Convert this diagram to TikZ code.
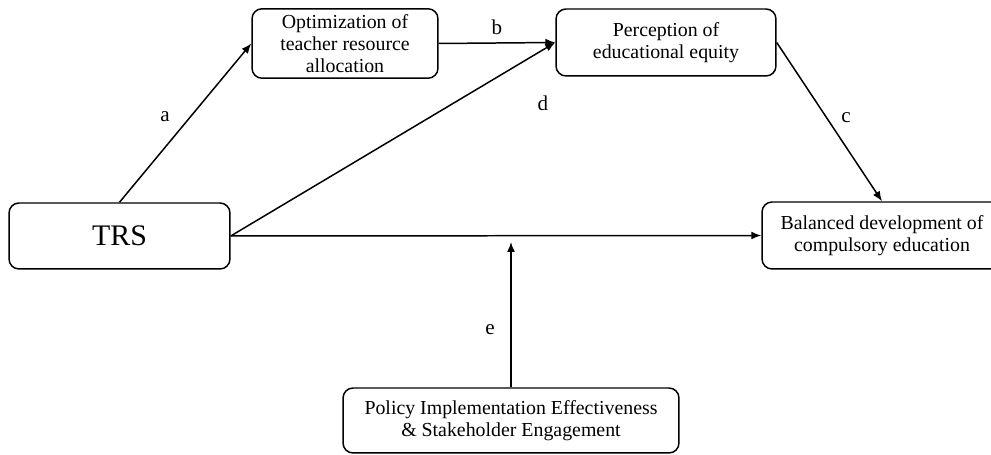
\documentclass[tikz,border=0pt]{standalone}
\usepackage{fontspec}
\setmainfont{Liberation Serif}
\usetikzlibrary{arrows.meta}

\begin{document}
\begin{tikzpicture}[
  x=0.02cm, y=-0.02cm,
  box/.style={rectangle, draw, rounded corners=2mm, line width=0.85pt, align=center,
    font=\fontsize{11.3}{12.4}\selectfont},
  path/.style={line width=0.85pt, -{Latex[length=2mm, width=1.6mm]}},
  lbl/.style={font=\fontsize{12}{14}\selectfont}
]
\clip (0,0) rectangle (991,455);
\node[box, minimum width=4.42cm, minimum height=1.32cm, font=\fontsize{17}{20}\selectfont] (trs) at (119.5,236) {TRS};
\node[box, minimum width=3.72cm, minimum height=1.34cm] (opt) at (345,43.5) {Optimization of\\teacher resource\\allocation};
\node[box, minimum width=4.4cm, minimum height=1.34cm] (perc) at (666,42.5) {Perception of\\educational equity};
\node[box, minimum width=4.8cm, minimum height=1.34cm] (bal) at (882,235.5) {Balanced development of\\compulsory education};
\node[box, minimum width=6.72cm, minimum height=1.3cm] (pol) at (511,420.5) {Policy Implementation Effectiveness\\\& Stakeholder Engagement};
\coordinate (mod) at (511,242);

\draw[path] (trs.north) -- (opt.west);
\draw[path] (opt.east) -- (perc.west);
\draw[path] (trs.east) -- (perc.west);
\draw[path] (perc.east) -- (bal.north);
\draw[path] (trs.east) -- (bal.west);
\draw[path] (pol.north) -- (mod);

\node[lbl] (la) at (165,117) {a};
\node[lbl] (lb) at (497,27) {b};
\node[lbl] (lc) at (846,118) {c};
\node[lbl] (ld) at (543,103) {d};
\node[lbl] (le) at (490,330) {e};
\end{tikzpicture}
\end{document}
